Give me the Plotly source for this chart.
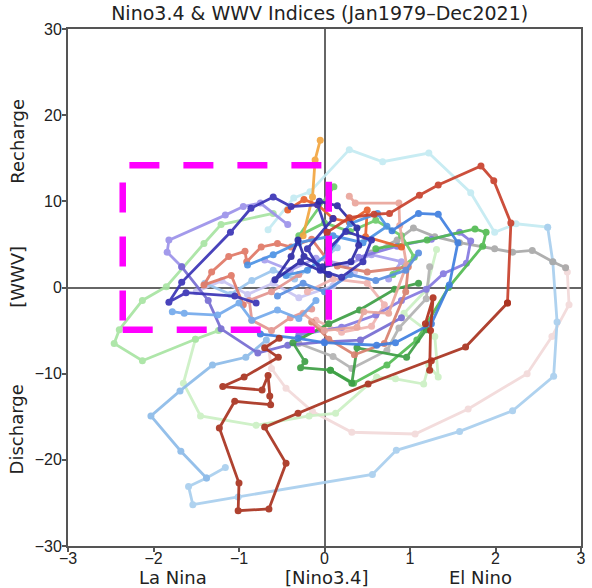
import plotly.graph_objects as go

# ---- data (Nino3.4 index on x, WWV index on y) ----
pink_pale_x = [2.82, 2.84, 2.86, 2.66, 2.37, 1.68, 1.06, 0.32, -0.14, -0.45, -0.62, -0.66]
pink_pale_y = [2.3, 1.8, -2.0, -5.7, -10.0, -14.1, -17.0, -16.8, -14.4, -11.7, -9.4, -6.7]

green_pale_x = [-1.51, -1.65, -1.45, -0.80, -0.18, 0.13, 0.61, 0.83, 1.16, 1.22, 1.33, 1.29, 0.93, 1.19, 1.31]
green_pale_y = [-6.0, -11.1, -14.9, -16.0, -14.9, -14.6, -10.4, -10.6, -11.2, -9.0, -10.4, -5.7, -3.0, -0.3, 4.4]

cyan_x = [-0.66, -0.36, -0.17, 0.29, 0.68, 1.22, 1.71, 1.99, 2.24, 2.61]
cyan_y = [6.7, 10.4, 11.1, 16.0, 14.6, 15.6, 11.0, 6.4, 7.4, 7.0]

ltblue_x = [2.61, 2.67, 2.72, 2.68, 2.20, 1.58, 0.84, 0.56, -1.01, -1.54, -1.59, -1.38, -1.16]
ltblue_y = [7.0, 3.0, -4.0, -10.3, -14.3, -16.7, -18.9, -21.7, -24.3, -25.2, -23.1, -22.1, -20.9]

mdblue_x = [-1.38, -1.68, -2.03, -1.69, -1.31, -0.92, -0.68]
mdblue_y = [-22.1, -19.0, -14.9, -12.0, -9.0, -8.1, -6.1]

gray_x = [0.55, 0.85, 1.04, 1.29, 1.58, 1.99, 2.20, 2.43, 2.67, 2.82]
gray_y = [4.0, 5.5, 6.9, 5.9, 5.2, 4.5, 4.1, 4.3, 3.0, 2.3]

gray2_x = [1.23, 1.19, 0.87, 0.73, 0.32, 0.10, -0.30]
gray2_y = [2.4, -1.3, -4.7, -7.3, -9.4, -8.0, -6.5]

ltgreen_x = [-0.60, -1.21, -1.41, -1.85, -2.13, -2.40, -2.46, -2.13, -1.51, -1.24]
ltgreen_y = [8.6, 7.3, 5.1, 0.1, -1.5, -4.9, -6.5, -8.5, -6.0, -5.0]

lavender_x = [-1.50, -1.20, -0.90, -0.60, -0.30, 0.10, 0.35]
lavender_y = [-0.5, 0.8, -0.8, 0.5, -1.2, 0.2, 1.8]

ltblue2_x = [-1.40, -1.10, -0.85, -0.60, -0.35, -0.10, 0.15]
ltblue2_y = [0.5, -0.8, 0.8, 2.0, 1.0, 2.8, 4.6]

pink_x = [-0.20, 0.10, 0.50, 0.70, 0.55, 0.20, -0.10]
pink_y = [-0.5, 1.0, 0.5, -2.0, -4.5, -5.2, -3.8]

periwinkle_x = [-0.70, -0.40, -0.10, 0.25, 0.55, 0.90, 0.75]
periwinkle_y = [3.2, 2.0, 3.4, 2.6, 3.8, 3.0, 1.0]

purple_lt_x = [-0.43, -0.75, -0.95, -1.16, -1.82, -1.84, -1.67]
purple_lt_y = [7.3, 9.8, 9.4, 8.4, 5.5, 4.1, 2.4]

slate_x = [-1.67, -1.36, -1.21, -0.78, -0.43, 0.00, 0.42, 0.90]
slate_y = [2.4, -1.5, -4.8, -7.6, -6.7, -6.3, -6.1, -3.5]

purple_r_x = [0.40, 0.85, 1.25, 1.58, 1.71, 1.66, 1.39, 1.19, 0.90, 0.60, 0.20, -0.30]
purple_r_y = [3.5, 4.8, 5.6, 6.4, 5.4, 2.8, 1.6, -0.2, -1.5, -3.2, -4.6, -5.5]

green_x = [0.60, 1.20, 1.76, 1.89, 1.85, 1.45, 1.08, 0.73, 0.34, 0.07]
green_y = [4.5, 5.5, 6.8, 6.4, 4.8, 0.0, -6.1, -9.0, -11.1, -9.6]

dkgreen_x = [1.10, 0.82, 0.41, 0.05, -0.37, -0.23, -0.28, 0.07, 0.32, 0.38, 0.96, 1.19]
dkgreen_y = [0.5, -0.2, -2.6, -4.2, -6.4, -8.6, -9.3, -9.6, -11.1, -7.0, -8.1, -4.9]

mdgreen_x = [0.11, -0.30, 0.00, 0.30, 0.60, 0.90, 1.05, 0.80]
mdgreen_y = [11.7, 6.0, 7.5, 6.5, 7.8, 6.0, 3.5, 1.5]

salmon_x = [-0.95, -1.09, -1.41, -1.32, -1.12, -0.93, -0.91, -0.74, -0.55, -0.39, -0.15, 0.05]
salmon_y = [-2.0, 1.4, 0.3, 1.8, 3.6, 4.2, 3.0, 4.7, 5.1, 4.7, 5.6, 3.0]

salmon2_x = [0.15, 0.50, 0.98, 0.95, 0.70, 0.35, 0.05, -0.15]
salmon2_y = [2.5, 1.8, 2.4, -0.5, -6.5, -7.8, -6.0, -4.0]

coral_x = [0.29, 0.36, 0.87, 0.88, 0.96, 0.75, 0.46, 0.38, 0.00, -0.25]
coral_y = [10.6, 9.8, 9.8, 7.2, 2.6, -3.0, -2.8, -4.6, -5.0, -3.0]

rose_x = [-0.30, -0.62, -0.88, -0.85, -0.62, -0.40, -0.15]
rose_y = [1.5, -0.5, -1.5, -3.8, -5.0, -3.5, -2.5]

orange_x = [-0.25, -0.14, -0.11, -0.05]
orange_y = [6.0, 10.5, 14.8, 17.1]

orangered_x = [-0.43, -0.24, -0.08, 0.10, 0.29, 0.50, 0.48, 0.90]
orangered_y = [9.0, 10.2, 9.6, 8.0, 7.6, 9.0, 5.9, 4.7]

dodger_x = [-1.78, -1.64, -1.25, -1.00, -0.85, -0.55, -0.30, -0.10]
dodger_y = [-2.8, -3.0, -3.2, -1.8, -3.8, -2.6, -3.6, -1.5]

blue4_x = [-0.55, -0.25, 0.00, 0.30, 0.60, 0.95, 1.10]
blue4_y = [-1.0, 0.5, -0.5, 1.5, 0.8, 2.0, 4.0]

sky_x = [-0.90, -0.60, -0.30, 0.10, 0.45, 0.73, 0.62, 0.30, 0.05, -0.20, -0.45]
sky_y = [2.6, 3.8, 5.2, 6.0, 5.2, 7.1, 8.6, 7.4, 4.0, 2.0, 1.4]

royal_x = [0.79, 1.10, 1.33, 1.56, 1.46, 1.25, 0.83, 0.61, 0.00, -0.31, -0.75]
royal_y = [6.6, 8.6, 8.5, 5.2, 0.3, -4.2, -6.4, -6.7, -6.4, -5.9, -5.4]

indigo_x = [0.03, -0.08, -0.39, -0.60, -0.86, -1.10, -1.67, -1.82, -1.62, -1.05, -0.80]
indigo_y = [6.4, 9.6, 9.4, 10.5, 9.2, 6.4, 0.6, -1.7, -0.6, -1.0, -1.8]

indigo2_x = [-0.06, 0.15, 0.38, 0.40, 0.31, -0.02, -0.24, -0.31, -0.39, -0.58, -0.28, 0.05]
indigo2_y = [10.0, 9.5, 6.9, 4.9, 3.0, 2.4, 3.6, 5.5, 3.6, 0.9, 3.0, 1.5]

navy3_x = [0.05, 0.25, 0.55, 0.45, 0.20, -0.05, -0.20, 0.10]
navy3_y = [4.5, 6.5, 5.5, 3.0, 1.2, 2.0, 4.5, 8.0]

red_x = [0.03, 0.29, 0.58, 0.76, 1.11, 1.33, 1.83, 1.98, 2.18, 2.14]
red_y = [6.4, 8.1, 8.5, 8.6, 10.7, 11.9, 14.1, 12.4, 7.5, -1.8]

dkred_x = [2.14, 1.65, 0.51, -0.31, -0.70, -0.45, -0.65, -1.01, -1.00, -1.23, -1.05, -0.63,
           -0.64, -0.66, -0.73, -1.19, -0.94, -0.54, -0.70, -0.53]
dkred_y = [-1.8, -6.9, -11.2, -14.6, -16.2, -20.4, -25.7, -25.9, -22.7, -16.3, -13.2, -13.6,
           -12.6, -10.2, -11.9, -11.5, -10.4, -8.1, -7.0, -5.9]

dkred2_x = [1.18, 1.27, 1.24, 1.23, 1.25]
dkred2_y = [-4.2, -1.2, -5.0, -9.6, -8.5]

box_x = [-2.36, 0.05]
box_y = [-4.9, 14.2]

series = [
    (pink_pale_x, pink_pale_y, "#f3dada"),
    (green_pale_x, green_pale_y, "#ccf0c4"),
    (cyan_x, cyan_y, "#c4ebf2"),
    (ltblue_x, ltblue_y, "#a9cfee"),
    (mdblue_x, mdblue_y, "#8dbbe9"),
    (gray_x, gray_y, "#a9a9a9"),
    (gray2_x, gray2_y, "#b3b3b3"),
    (ltgreen_x, ltgreen_y, "#a8e4a2"),
    (lavender_x, lavender_y, "#c9c5f2"),
    (ltblue2_x, ltblue2_y, "#9cc6ee"),
    (pink_x, pink_y, "#f0b4b0"),
    (periwinkle_x, periwinkle_y, "#a8a0ee"),
    (purple_lt_x, purple_lt_y, "#9c92ea"),
    (slate_x, slate_y, "#766cd2"),
    (purple_r_x, purple_r_y, "#8579e0"),
    (green_x, green_y, "#52bb52"),
    (dkgreen_x, dkgreen_y, "#3d9f45"),
    (mdgreen_x, mdgreen_y, "#6ccc6a"),
    (salmon_x, salmon_y, "#e07866"),
    (salmon2_x, salmon2_y, "#d9806e"),
    (coral_x, coral_y, "#eaa69c"),
    (rose_x, rose_y, "#e39590"),
    (orange_x, orange_y, "#f2a640"),
    (orangered_x, orangered_y, "#e8602c"),
    (dodger_x, dodger_y, "#74aaec"),
    (blue4_x, blue4_y, "#5a8fe0"),
    (sky_x, sky_y, "#4b92e4"),
    (royal_x, royal_y, "#3f7fe0"),
    (indigo_x, indigo_y, "#3a34b6"),
    (indigo2_x, indigo2_y, "#2d2aa5"),
    (navy3_x, navy3_y, "#3530b0"),
    (red_x, red_y, "#c8412c"),
    (dkred_x, dkred_y, "#a9321f"),
    (dkred2_x, dkred2_y, "#b0301e"),
]

fig = go.Figure()
for xs, ys, col in series:
    fig.add_trace(go.Scatter(
        x=xs, y=ys, mode="lines+markers",
        line=dict(color=col, width=2.8),
        marker=dict(color=col, size=7),
        opacity=0.92, showlegend=False, hoverinfo="skip",
    ))

fig.add_shape(type="rect", xref="x", yref="y",
              x0=box_x[0], x1=box_x[1], y0=box_y[0], y1=box_y[1],
              line=dict(color="#ff00ff", width=6.5, dash="30px,24px"),
              layer="above")

axis_common = dict(
    showgrid=False, zeroline=True, zerolinecolor="#666666", zerolinewidth=1.5,
    showline=True, linecolor="#555555", linewidth=2, mirror=True,
    ticks="outside", ticklen=4, tickwidth=1.5, tickcolor="#555555",
    tickfont=dict(family="Liberation Sans", size=16, color="#222222"),
)

fig.update_layout(
    width=592, height=588,
    margin=dict(l=68, r=6, t=29, b=42),
    plot_bgcolor="white", paper_bgcolor="white",
    xaxis=dict(range=[-3, 3], tickvals=[-3, -2, -1, 0, 1, 2, 3],
               ticklabelstandoff=-7, **axis_common),
    yaxis=dict(range=[-30, 30], tickvals=[-30, -20, -10, 0, 10, 20, 30],
               ticklabelstandoff=-3, **axis_common),
    title=dict(text="Nino3.4 & WWV Indices (Jan1979\u2013Dec2021)",
               x=0.54, xanchor="center", y=0.988, yanchor="top",
               font=dict(family="DejaVu Sans", size=19, color="#222222")),
)

lab_font = dict(family="DejaVu Sans", size=18, color="#222222")
for txt, xv in [("La Nina", -1.77), ("[Nino3.4]", 0.03), ("El Nino", 1.82)]:
    fig.add_annotation(text=txt, x=xv, xref="x", y=-0.06, yref="paper",
                       showarrow=False, font=lab_font, yanchor="middle")
for txt, yv in [("Recharge", 17.0), ("[WWV]", 1.2), ("Discharge", -16.5)]:
    fig.add_annotation(text=txt, y=yv, yref="y", x=-0.1, xref="paper",
                       showarrow=False, font=lab_font, textangle=-90, xanchor="center")

fig.write_html("out.html")
